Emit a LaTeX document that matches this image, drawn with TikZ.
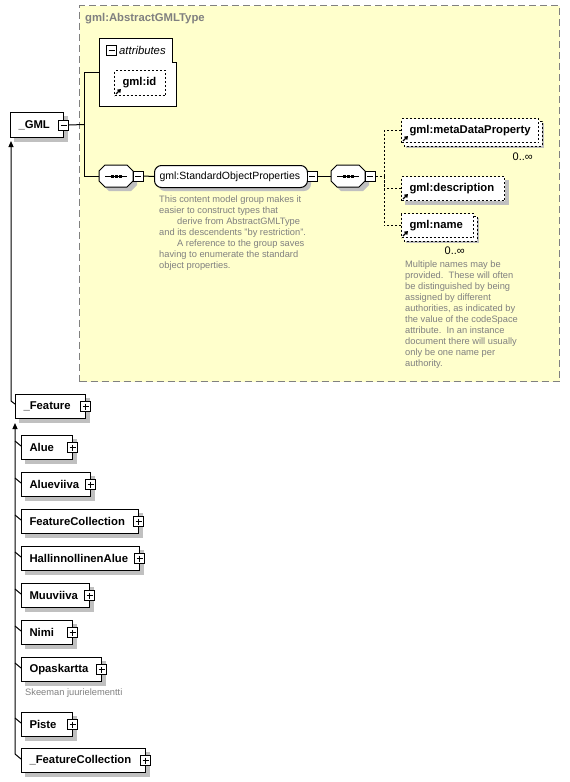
\documentclass[tikz,border=0pt]{standalone}
\usepackage{fontspec}
\setmainfont{Liberation Sans}
\usetikzlibrary{arrows.meta}
\pgfdeclarelayer{bg}
\pgfdeclarelayer{mid}
\pgfsetlayers{bg,mid,main}
\definecolor{ybg}{RGB}{255,255,204}
\definecolor{shd}{RGB}{192,192,192}
\definecolor{txtgray}{RGB}{128,128,128}
\definecolor{bordgray}{RGB}{128,128,128}
\newcommand\lblf{\fontsize{11.3}{13}\selectfont\bfseries}
\newcommand\regf{\fontsize{10.5}{12}\selectfont}
\newcommand\notef{\fontsize{9.3}{10.9}\selectfont}
\newcommand\multf{\fontsize{11}{12}\selectfont}
\newcommand\shadowbox[2][4]{\begin{pgfonlayer}{bg}\fill[shd] ([shift={(#1,#1)}]#2.north west) rectangle ([shift={(#1,#1)}]#2.south east);\end{pgfonlayer}}
\newcommand\stackbox[1]{\begin{pgfonlayer}{bg}\fill[shd] ([shift={(5,5)}]#1.north west) rectangle ([shift={(5,5)}]#1.south east);\end{pgfonlayer}\begin{pgfonlayer}{mid}\draw[line width=1pt, dash pattern=on 2pt off 2pt, fill=white] ([shift={(3,3)}]#1.north west) rectangle ([shift={(3,3)}]#1.south east);\end{pgfonlayer}}
\tikzset{
  elem/.style={draw, line width=1pt, fill=white, anchor=north west, minimum height=24pt,
    inner xsep=8pt, inner ysep=0pt, align=left, font=\lblf},
  optelem/.style={elem, dash pattern=on 2pt off 2pt},
  expd/.style={draw, line width=1pt, fill=white, minimum size=10pt, inner sep=0pt},
  minusx/.style={expd, path picture={\draw[line width=1pt] ([xshift=2pt]path picture bounding box.west) -- ([xshift=-2pt]path picture bounding box.east);}},
  plusx/.style={expd, path picture={\draw[line width=1pt] ([xshift=2pt]path picture bounding box.west) -- ([xshift=-2pt]path picture bounding box.east) ([yshift=-2pt]path picture bounding box.north) -- ([yshift=2pt]path picture bounding box.south);}},
  conn/.style={line width=1pt},
  dconn/.style={line width=1pt, dash pattern=on 2pt off 2pt},
  note/.style={font=\notef, text=txtgray, align=left, anchor=north west, inner sep=0pt},
  refarrow/.style={line width=1.3pt, -{Triangle[length=3.5pt,width=4.5pt]}},
  octo/.pic={
    \fill[shd, shift={(4,4)}] (-17,-5) -- (-11,-11) -- (11,-11) -- (17,-5) -- (17,5) -- (11,11) -- (-11,11) -- (-17,5) -- cycle;
    \draw[line width=1pt, fill=white] (-17,-5) -- (-11,-11) -- (11,-11) -- (17,-5) -- (17,5) -- (11,11) -- (-11,11) -- (-17,5) -- cycle;
    \draw[line width=1pt] (-11,0) -- (11,0);
    \fill (-5.5,-1.5) rectangle (-2.5,1.5);
    \fill (-1.5,-1.5) rectangle (1.5,1.5);
    \fill (2.5,-1.5) rectangle (5.5,1.5);
    \node[minimum width=34pt, minimum height=22pt, inner sep=0pt] (-n) at (0,0) {};
  },
}
\begin{document}
\begin{tikzpicture}[x=1pt,y=-1pt]
\useasboundingbox (0,0) rectangle (570,782);
\begin{pgfonlayer}{bg}
\node[draw=bordgray, dash pattern=on 7pt off 4pt, line width=1pt, fill=ybg, anchor=north west,
  minimum width=480pt, minimum height=376pt, inner sep=0pt] (abs) at (79,5) {};
\end{pgfonlayer}
\node[anchor=west, font=\lblf, text=txtgray, inner sep=0pt] (abst) at (85,19) {gml:AbstractGMLType};

% _GML
\node[elem, minimum width=53pt, minimum height=25pt, text width=37pt] (gml) at (10,112) {\_GML};
\shadowbox{gml}
\node[minusx] (gmlx) at ([xshift=-0.5pt]gml.east) {};

% attributes
\draw[line width=1pt, fill=white] (99,38) -- (172,38) -- (172,62) -- (176,62) -- (176,106) -- (99,106) -- cycle;
\coordinate (attrw) at (99,72);
\node[minusx] (attrx) at (111.5,50.5) {};
\node[anchor=west, inner sep=0pt, font=\fontsize{11.3}{13}\selectfont\itshape] (attrt) at (119,50) {attributes};
\node[optelem, minimum width=51pt, minimum height=25pt, text width=35pt] (gid) at (114,70) {gml:id};
\shadowbox[3]{gid}
\draw[refarrow] ([shift={(2,-2)}]gid.south west) -- ++(5,-5);

% junction
\coordinate (j1) at (84,124.5);
\draw[conn] (gmlx.east) -- (j1);
\draw[conn] (attrw) -| (j1);

% sequence 1
\pic (seqa) at (116,176) {octo};
\node[minusx] (seqax) at (138,176) {};
\draw[conn] (j1) |- (seqa-n.west);

% StandardObjectProperties
\begin{pgfonlayer}{bg}
\fill[shd, rounded corners=7pt] (158,169) rectangle (311,191);
\end{pgfonlayer}
\node[draw, line width=1pt, fill=white, rounded corners=7pt, anchor=north west, minimum width=153pt,
  minimum height=22pt, inner xsep=5pt, inner ysep=0pt, text width=143pt, align=left, font=\regf] (sop) at (154,165) {gml:StandardObjectProperties};
\node[minusx] (sopx) at (312,176) {};
\draw[conn] (seqax.east) -- (sop.west);
\node[note] (sopnote) at (159,196) {This content model group makes it\\easier to construct types that\\\hspace*{18pt}derive from AbstractGMLType\\and its descendents "by restriction".\\\hspace*{18pt}A reference to the group saves\\having to enumerate the standard\\object properties.};

% sequence 2
\pic (seqb) at (348,176) {octo};
\node[minusx] (seqbx) at (370,176) {};
\draw[conn] (sopx.east) -- (seqb-n.west);

% child elements
\node[optelem, minimum width=137pt, text width=121pt] (mdp) at (401,118) {gml:metaDataProperty};
\stackbox{mdp}
\draw[refarrow] ([shift={(2,-2)}]mdp.south west) -- ++(5,-5);
\node[anchor=east, inner sep=0pt, font=\multf] (mdpm) at (533,157) {0..∞};

\node[optelem, minimum width=103pt, text width=87pt] (desc) at (401,176) {gml:description};
\shadowbox{desc}
\draw[refarrow] ([shift={(2,-2)}]desc.south west) -- ++(5,-5);

\node[optelem, minimum width=72pt, text width=56pt] (gname) at (401,213) {gml:name};
\stackbox{gname}
\draw[refarrow] ([shift={(2,-2)}]gname.south west) -- ++(5,-5);
\node[anchor=east, inner sep=0pt, font=\multf] (gnamem) at (465,251) {0..∞};
\node[note] (namenote) at (405,261) {Multiple names may be\\provided.\ \ These will often\\be distinguished by being\\assigned by different\\authorities, as indicated by\\the value of the codeSpace\\attribute.\ \ In an instance\\document there will usually\\only be one name per\\authority.};

\coordinate (j2) at (384,176);
\draw[dconn] (seqbx.east) -- (j2);
\draw[dconn] (mdp.west) -| (j2);
\draw[dconn] (desc.west) -| (j2);
\draw[dconn] (gname.west) -| (j2);

% _Feature
\node[elem, minimum width=70pt, text width=54pt] (feat) at (15,394) {\_Feature};
\shadowbox{feat}
\node[plusx] (featx) at ([xshift=-0.5pt]feat.east) {};
\draw[conn, {Triangle[length=6pt,width=5pt]}-] ([shift={(1,3)}]gml.south west) -- ([shift={(-4,7)}]feat.north west) -- ([shift={(0,10)}]feat.north west);

% children
\node[elem, minimum width=51pt, text width=35pt] (c1) at (21,435) {Alue};
\node[elem, minimum width=69pt, text width=53pt] (c2) at (21,472) {Alueviiva};
\node[elem, minimum width=117pt, text width=101pt] (c3) at (21,509) {FeatureCollection};
\node[elem, minimum width=118pt, text width=102pt] (c4) at (21,546) {HallinnollinenAlue};
\node[elem, minimum width=68pt, text width=52pt] (c5) at (21,583) {Muuviiva};
\node[elem, minimum width=51pt, text width=35pt] (c6) at (21,620) {Nimi};
\node[elem, minimum width=80pt, text width=64pt] (c7) at (21,657) {Opaskartta};
\node[elem, minimum width=51pt, text width=35pt] (c8) at (21,712) {Piste};
\node[elem, minimum width=124pt, text width=108pt] (c9) at (21,748) {\_FeatureCollection};
\foreach \c in {c1,c2,c3,c4,c5,c6,c7,c8,c9}{
  \shadowbox{\c}
  \node[plusx] (\c x) at ([xshift=-0.5pt]\c.east) {};
}
\node[note] (sknote) at (25,689) {Skeeman juurielementti};

\draw[conn, {Triangle[length=6pt,width=5pt]}-] ([shift={(0,4)}]feat.south west) -- ([shift={(-6,6)}]c9.north west) -- ([shift={(0,11)}]c9.north west);
\foreach \c in {c1,c2,c3,c4,c5,c6,c7,c8}{
  \draw[conn] ([shift={(-6,6)}]\c.north west) -- ([shift={(0,11)}]\c.north west);
}
\end{tikzpicture}
\end{document}
